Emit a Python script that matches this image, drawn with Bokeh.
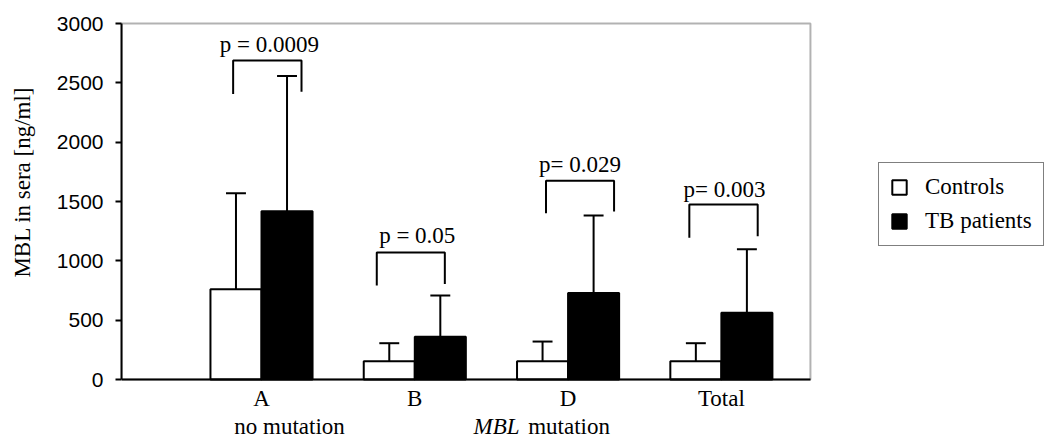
import math
from bokeh.plotting import figure
from bokeh.models import (Range1d, FixedTicker, Label, Legend, LegendItem, BoxAnnotation)
from bokeh.embed import file_html
from bokeh.resources import INLINE

# ---- data ----
categories = ["A", "B", "D", "Total"]
controls_mean = [761, 154, 154, 154]
controls_err_top = [1570, 306, 320, 306]
tb_mean = [1418, 360, 730, 562]
tb_err_top = [2558, 708, 1382, 1098]
p_labels = ["p = 0.0009", "p = 0.05", "p= 0.029", "p= 0.003"]
bracket_top = [2688, 1070, 1676, 1474]
bracket_left_bottom = [2407, 792, 1401, 1194]
bracket_right_bottom = [2426, 806, 1415, 1207]
y_ticks = [0, 500, 1000, 1500, 2000, 2500, 3000]

# ---- layout constants ----
xc = [i + 1 for i in range(len(categories))]
bw = 0.333
bracket_left_off = [-0.185, -0.248, -0.144, -0.209]
bracket_right_off = [0.261, 0.196, 0.300, 0.237]
p_x_off = [0.052, 0.016, 0.078, 0.020]
p_base = [2824, 1215, 1808, 1603]
SUB_Y = -400

X0, XBOX, X1 = 0.0867, 4.581, 6.121
Y0, YTOP, Y1 = -497, 3000, 3194

SERIF = "Liberation Serif"
SANS = "Liberation Sans"
FS = "23px"

p = figure(width=1046, height=438, output_backend="svg", toolbar_location=None,
           x_range=Range1d(X0, X1), y_range=Range1d(Y0, Y1),
           min_border_left=121, min_border_right=0, min_border_top=0, min_border_bottom=0)
p.xgrid.visible = False
p.ygrid.visible = False
p.outline_line_color = None
p.background_fill_color = "white"
p.border_fill_color = "white"

# plot box
p.add_layout(BoxAnnotation(left=X0, right=XBOX, bottom=0, top=YTOP, fill_alpha=0,
                           line_color="black", line_width=2))

x_ctrl = [x - bw / 2 for x in xc]
x_tb = [x + bw / 2 for x in xc]

r_ctrl = p.vbar(x=x_ctrl, top=controls_mean, bottom=0, width=bw,
                fill_color="white", line_color="black", line_width=2)
r_tb = p.vbar(x=x_tb, top=tb_mean, bottom=0, width=bw,
              fill_color="black", line_color="black", line_width=2)

cap = 0.065
p.segment(x0=x_ctrl, y0=controls_mean, x1=x_ctrl, y1=controls_err_top, line_color="black", line_width=2)
p.segment(x0=[x - cap for x in x_ctrl], y0=controls_err_top, x1=[x + cap for x in x_ctrl],
          y1=controls_err_top, line_color="black", line_width=2)
p.segment(x0=x_tb, y0=tb_mean, x1=x_tb, y1=tb_err_top, line_color="black", line_width=2)
p.segment(x0=[x - cap for x in x_tb], y0=tb_err_top, x1=[x + cap for x in x_tb],
          y1=tb_err_top, line_color="black", line_width=2)

# brackets
bxs, bys = [], []
for i, x in enumerate(xc):
    l = x + bracket_left_off[i]
    r = x + bracket_right_off[i]
    bxs.append([l, l, r, r])
    bys.append([bracket_left_bottom[i], bracket_top[i], bracket_top[i], bracket_right_bottom[i]])
p.multi_line(xs=bxs, ys=bys, line_color="black", line_width=2)

for i, x in enumerate(xc):
    p.add_layout(Label(x=x + p_x_off[i], y=p_base[i], text=p_labels[i], text_align="center",
                       text_baseline="alphabetic", text_font=SERIF, text_font_size=FS,
                       text_color="black"))

# axes
yax = p.yaxis[0]
yax.ticker = FixedTicker(ticks=y_ticks)
yax.bounds = (0, YTOP)
yax.axis_line_width = 2
yax.axis_line_color = "black"
yax.major_tick_line_width = 2
yax.major_tick_line_color = "black"
yax.major_tick_out = 6
yax.major_tick_in = 0
yax.minor_tick_line_color = None
yax.major_label_standoff = 12
yax.major_label_text_font = SANS
yax.major_label_text_font_size = "21px"
yax.major_label_text_color = "black"
yax.axis_label = "\u00a0" * 13 + "MBL in sera [ng/ml]"
yax.axis_label_text_font = SERIF
yax.axis_label_text_font_size = FS
yax.axis_label_text_font_style = "normal"
yax.axis_label_text_color = "black"
yax.axis_label_standoff = 19

xax = p.xaxis[0]
xax.fixed_location = 0
xax.bounds = (X0, XBOX)
xax.ticker = FixedTicker(ticks=xc)
xax.major_label_overrides = {x: c for x, c in zip(xc, categories)}
xax.axis_line_width = 2
xax.axis_line_color = "black"
xax.major_tick_line_color = None
xax.major_tick_out = 0
xax.major_tick_in = 0
xax.minor_tick_line_color = None
xax.major_label_standoff = 6
xax.major_label_text_font = SERIF
xax.major_label_text_font_size = FS
xax.major_label_text_color = "black"

# second line of x labels
p.add_layout(Label(x=1.183, y=SUB_Y, text="no mutation", text_align="center",
                   text_baseline="alphabetic", text_font=SERIF, text_font_size=FS, text_color="black"))
p.add_layout(Label(x=2.383, y=SUB_Y, text="MBL", text_align="left", text_font_style="italic",
                   text_baseline="alphabetic", text_font=SERIF, text_font_size=FS, text_color="black"))
p.add_layout(Label(x=2.74, y=SUB_Y, text="mutation", text_align="left",
                   text_baseline="alphabetic", text_font=SERIF, text_font_size=FS, text_color="black"))

legend = Legend(items=[LegendItem(label="Controls", renderers=[r_ctrl]),
                       LegendItem(label="TB patients", renderers=[r_tb])],
                location=(757, 192), orientation="vertical")
legend.border_line_color = "black"
legend.border_line_width = 1.5
legend.background_fill_color = "white"
legend.background_fill_alpha = 1
legend.label_text_font = SERIF
legend.label_text_font_size = FS
legend.label_text_color = "black"
legend.glyph_width = 18
legend.glyph_height = 18
legend.padding = 11
legend.spacing = 8
legend.label_standoff = 17
legend.label_height = 25
legend.margin = 0
p.add_layout(legend, "center")

open("out.html", "w").write(file_html(p, INLINE))
